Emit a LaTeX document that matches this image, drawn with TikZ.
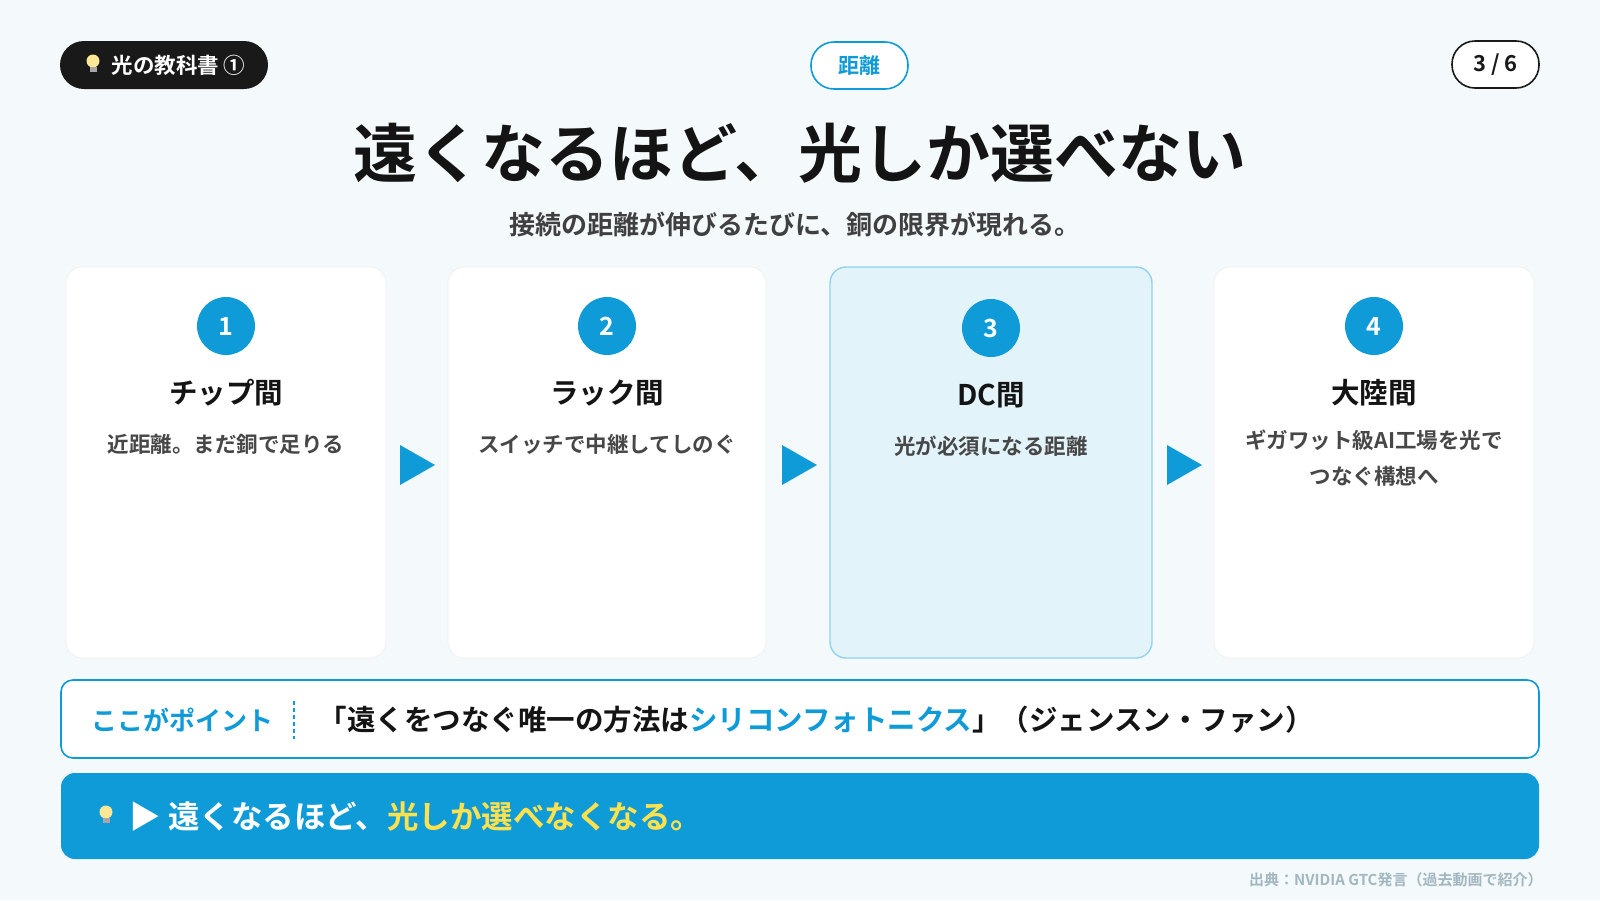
\documentclass[tikz,border=0pt]{standalone}
\usepackage{fontspec}
\setmainfont{Noto Sans CJK JP}[BoldFont={* Bold}]
\newfontfamily\jpb{Noto Sans CJK JP Bold}
\begin{document}
\begin{tikzpicture}[x=1pt,y=-1pt,
  card/.style={draw=black!6,fill=white,rounded corners=16pt,line width=0.8pt},
  num/.style={circle,fill=bl,minimum size=58pt,inner sep=0,text=white,font=\jpb\fontsize{25}{25}\selectfont},
  head/.style={font=\jpb\fontsize{28.5}{30}\selectfont,text=black!92},
  desc/.style={font=\jpb\fontsize{21.5}{36}\selectfont,text=black!72,align=center},
  tri/.style={fill=bl}]
\definecolor{bl}{HTML}{0F9BD7}
\definecolor{bg}{HTML}{F4F9FC}
\definecolor{yl}{HTML}{FFE14D}
\newcommand{\bulb}[2]{\fill[yellow!60!orange!40] (#1,#2) circle (6.5); \fill[gray!70] (#1-3.5,#2+6) rectangle (#1+3.5,#2+11);}
\fill[bg] (0,0) rectangle (1600,900);
\useasboundingbox (0,0) rectangle (1600,900);
% top pills
\fill[black!90,rounded corners=24pt] (60,41) rectangle (268,89);
\bulb{93}{61}
\node[text=white,font=\jpb\fontsize{21.5}{21}\selectfont,anchor=west] (tag) at (108,65) {光の教科書 ①};
\draw[bl,line width=1.6pt,fill=white,rounded corners=23pt] (811,42) rectangle (908,89);
\node[text=bl,font=\jpb\fontsize{21}{20}\selectfont] (topic) at (859.5,65.5) {距離};
\draw[black!90,line width=1.6pt,fill=white,rounded corners=23pt] (1452,41) rectangle (1539,88);
\node[text=black!90,font=\jpb\fontsize{22}{20}\selectfont] (page) at (1495.5,65) {3 / 6};
% title
\node[font=\jpb\fontsize{64}{66}\selectfont,text=black!92] (title) at (800,153) {遠くなるほど、光しか選べない};
\node[font=\jpb\fontsize{26}{26}\selectfont,text=black!75] (sub) at (795,224) {接続の距離が伸びるたびに、銅の限界が現れる。};
% cards
\draw[card] (66,267) rectangle (386,658);
\draw[card] (448,267) rectangle (766,658);
\draw[fill=bl!12,draw=bl!45,rounded corners=16pt,line width=1.4pt] (830,267) rectangle (1152,658);
\draw[card] (1214,267) rectangle (1534,658);
\node[num] (n1) at (226,326) {1};
\node[num] (n2) at (607,326) {2};
\node[num] (n3) at (991,328) {3};
\node[num] (n4) at (1374,326) {4};
\node[head] (h1) at (226,393) {チップ間};
\node[head] (h2) at (607,393) {ラック間};
\node[head] (h3) at (991,395) {DC間};
\node[head] (h4) at (1374,393) {大陸間};
\node[desc] (d1) at (226,444) {近距離。まだ銅で足りる};
\node[desc] (d2) at (607,444) {スイッチで中継してしのぐ};
\node[desc] (d3) at (991,446) {光が必須になる距離};
\node[desc,anchor=north] (d4) at (1374,426) {ギガワット級AI工場を光で\\つなぐ構想へ};
\fill[tri] (400,445) -- (435,465) -- (400,485) -- cycle;
\fill[tri] (782,445) -- (817,465) -- (782,485) -- cycle;
\fill[tri] (1167,445) -- (1202,465) -- (1167,485) -- cycle;
% point box
\draw[bl,line width=1.6pt,fill=white,rounded corners=12pt] (61,680) rectangle (1539,758);
\node[text=bl,font=\jpb\fontsize{26}{27}\selectfont,anchor=west] (pt) at (88,720) {ここがポイント};
\draw[bl,line width=2.5pt,dash pattern=on 4pt off 3pt] (294,701) -- (294,739);
\node[text=black!92,font=\jpb\fontsize{28.5}{27}\selectfont,anchor=west] (quote) at (315,720) {「遠くをつなぐ唯一の方法は\textcolor{bl}{シリコンフォトニクス}」（ジェンスン・ファン）};
% bottom bar
\fill[bl,rounded corners=14pt] (61,773) rectangle (1539,859);
\bulb{106}{812}
\node[text=white,font=\jpb\fontsize{31.5}{30}\selectfont,anchor=west] (concl) at (126,817) {▶ 遠くなるほど、\textcolor{yl}{光しか選べなくなる。}};
\node[text=gray!75!bl!60,font=\jpb\fontsize{15}{15}\selectfont,anchor=east] (src) at (1546,880) {出典：NVIDIA GTC発言（過去動画で紹介）};
\end{tikzpicture}
\end{document}
